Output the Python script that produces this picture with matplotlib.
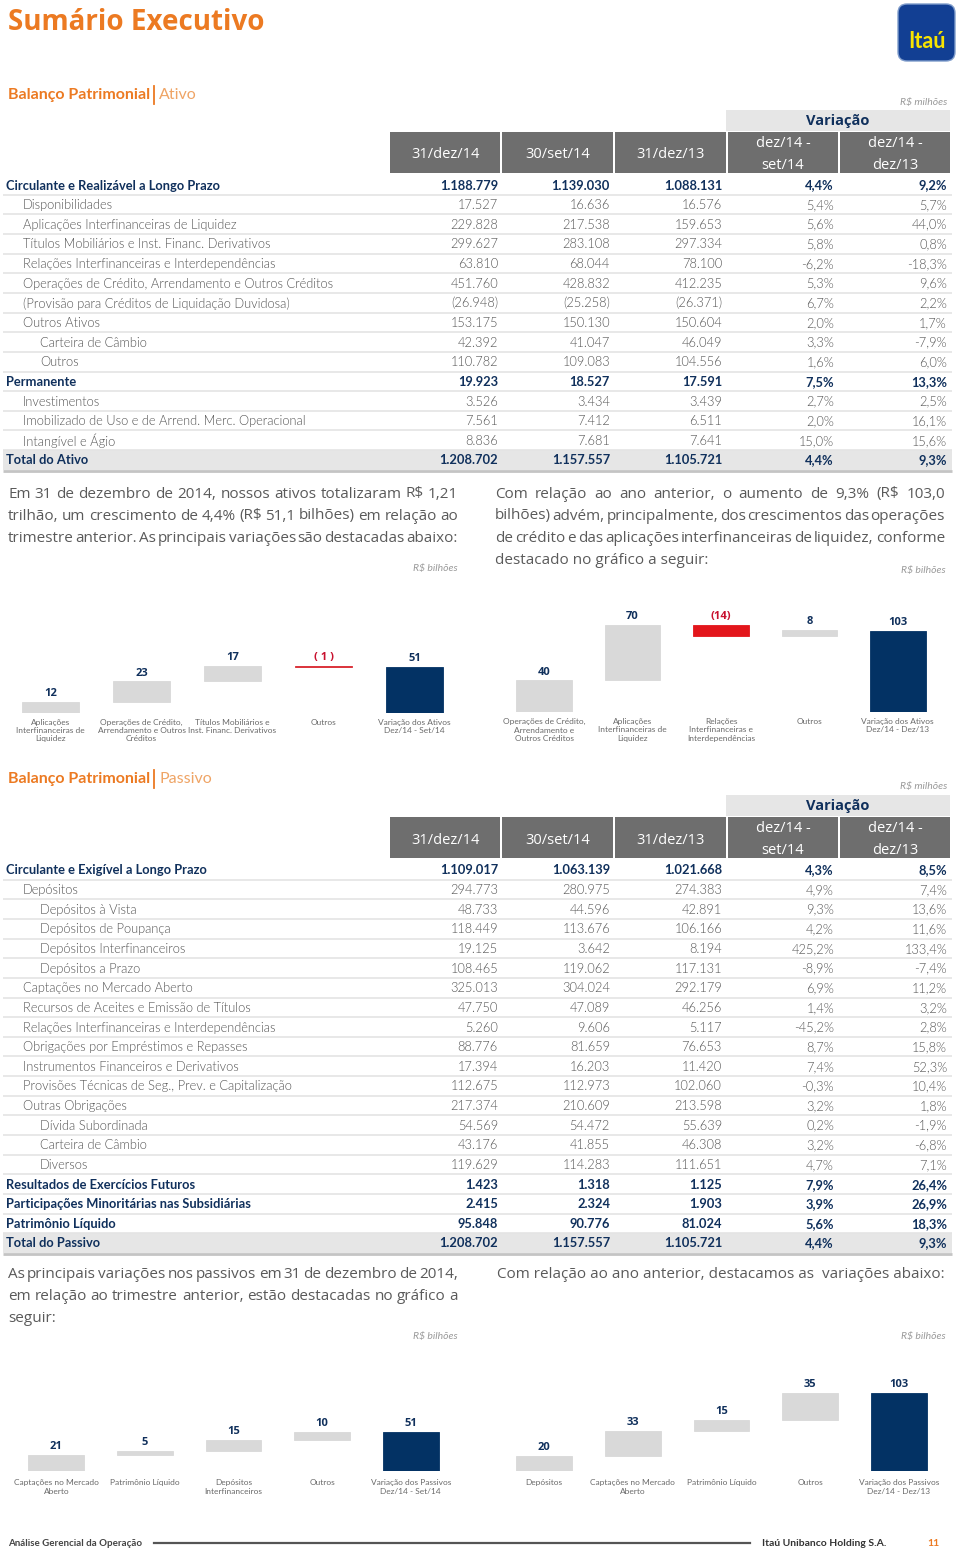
import matplotlib
matplotlib.use("Agg")
import matplotlib.pyplot as plt
from matplotlib.patches import Rectangle, FancyBboxPatch

# ---------------- DATA ----------------
col_headers = ['31/dez/14', '30/set/14', '31/dez/13']
var_headers = [('dez/14 -', 'set/14'), ('dez/14 -', 'dez/13')]

ativo_labels = ['Circulante e Realizável a Longo Prazo', 'Disponibilidades',
                'Aplicações Interfinanceiras de Liquidez', 'Títulos Mobiliários e Inst. Financ. Derivativos',
                'Relações Interfinanceiras e Interdependências',
                'Operações de Crédito, Arrendamento e Outros Créditos',
                '(Provisão para Créditos de Liquidação Duvidosa)', 'Outros Ativos',
                'Carteira de Câmbio', 'Outros', 'Permanente', 'Investimentos',
                'Imobilizado de Uso e de Arrend. Merc. Operacional', 'Intangível e Ágio',
                'Total do Ativo']
ativo_level = ['b', 1, 1, 1, 1, 1, 1, 1, 2, 2, 'b', 1, 1, 1, 't']
ativo_dez14 = [1188779, 17527, 229828, 299627, 63810, 451760, -26948, 153175, 42392, 110782,
               19923, 3526, 7561, 8836, 1208702]
ativo_set14 = [1139030, 16636, 217538, 283108, 68044, 428832, -25258, 150130, 41047, 109083,
               18527, 3434, 7412, 7681, 1157557]
ativo_dez13 = [1088131, 16576, 159653, 297334, 78100, 412235, -26371, 150604, 46049, 104556,
               17591, 3439, 6511, 7641, 1105721]
ativo_var_tri = [4.4, 5.4, 5.6, 5.8, -6.2, 5.3, 6.7, 2.0, 3.3, 1.6, 7.5, 2.7, 2.0, 15.0, 4.4]
ativo_var_ano = [9.2, 5.7, 44.0, 0.8, -18.3, 9.6, 2.2, 1.7, -7.9, 6.0, 13.3, 2.5, 16.1, 15.6, 9.3]

passivo_labels = ['Circulante e Exigível a Longo Prazo', 'Depósitos', 'Depósitos à Vista',
                  'Depósitos de Poupança', 'Depósitos Interfinanceiros', 'Depósitos a Prazo',
                  'Captações no Mercado Aberto', 'Recursos de Aceites e Emissão de Títulos',
                  'Relações Interfinanceiras e Interdependências', 'Obrigações por Empréstimos e Repasses',
                  'Instrumentos Financeiros e Derivativos',
                  'Provisões Técnicas de Seg., Prev. e Capitalização', 'Outras Obrigações',
                  'Dívida Subordinada', 'Carteira de Câmbio', 'Diversos',
                  'Resultados de Exercícios Futuros', 'Participações Minoritárias nas Subsidiárias',
                  'Patrimônio Líquido', 'Total do Passivo']
passivo_level = ['b', 1, 2, 2, 2, 2, 1, 1, 1, 1, 1, 1, 1, 2, 2, 2, 'b', 'b', 'b', 't']
passivo_dez14 = [1109017, 294773, 48733, 118449, 19125, 108465, 325013, 47750, 5260, 88776,
                 17394, 112675, 217374, 54569, 43176, 119629, 1423, 2415, 95848, 1208702]
passivo_set14 = [1063139, 280975, 44596, 113676, 3642, 119062, 304024, 47089, 9606, 81659,
                 16203, 112973, 210609, 54472, 41855, 114283, 1318, 2324, 90776, 1157557]
passivo_dez13 = [1021668, 274383, 42891, 106166, 8194, 117131, 292179, 46256, 5117, 76653,
                 11420, 102060, 213598, 55639, 46308, 111651, 1125, 1903, 81024, 1105721]
passivo_var_tri = [4.3, 4.9, 9.3, 4.2, 425.2, -8.9, 6.9, 1.4, -45.2, 8.7, 7.4, -0.3, 3.2, 0.2,
                   3.2, 4.7, 7.9, 3.9, 5.6, 4.4]
passivo_var_ano = [8.5, 7.4, 13.6, 11.6, 133.4, -7.4, 11.2, 3.2, 2.8, 15.8, 52.3, 10.4, 1.8, -1.9,
                   -6.8, 7.1, 26.4, 26.9, 18.3, 9.3]

wf1_cats = ['Aplicações\nInterfinanceiras de\nLiquidez', 'Operações de Crédito,\nArrendamento e Outros\nCréditos',
            'Títulos Mobiliários e\nInst. Financ. Derivativos', 'Outros', 'Variação dos Ativos\nDez/14 - Set/14']
wf1_vals = [12, 23, 17, -1, 51]
wf2_cats = ['Operações de Crédito,\nArrendamento e\nOutros Créditos', 'Aplicações\nInterfinanceiras de\nLiquidez',
            'Relações\nInterfinanceiras e\nInterdependências', 'Outros', 'Variação dos Ativos\nDez/14 - Dez/13']
wf2_vals = [40, 70, -14, 8, 103]
wf3_cats = ['Captações no Mercado\nAberto', 'Patrimônio Líquido', 'Depósitos\nInterfinanceiros', 'Outros',
            'Variação dos Passivos\nDez/14 - Set/14']
wf3_vals = [21, 5, 15, 10, 51]
wf4_cats = ['Depósitos', 'Captações no Mercado\nAberto', 'Patrimônio Líquido', 'Outros',
            'Variação dos Passivos\nDez/14 - Dez/13']
wf4_vals = [20, 33, 15, 35, 103]

par1 = ['Em 31 de dezembro de 2014, nossos ativos totalizaram R$ 1,21',
        'trilhão, um crescimento de 4,4% (R$ 51,1 bilhões) em relação ao',
        'trimestre anterior. As principais variações são destacadas abaixo:']
par2 = ['Com relação ao ano anterior, o aumento de 9,3% (R$ 103,0',
        'bilhões) advém, principalmente, dos crescimentos das operações',
        'de crédito e das aplicações interfinanceiras de liquidez, conforme',
        'destacado no gráfico a seguir:']
par3 = ['As principais variações nos passivos em 31 de dezembro de 2014,',
        'em relação ao trimestre anterior, estão destacadas no gráfico a',
        'seguir:']
par4 = ['Com relação ao ano anterior, destacamos as  variações abaixo:']

# ---------------- STYLE ----------------
W, H = 960, 1552
ORANGE = '#EC7A22'
NAVY = '#10305C'
TXT = '#555555'
HDR = '#6E6E6E'
BAND = '#E6E6E6'
BARGRAY = '#D9D9D9'
BARBLUE = '#033264'
RED = '#E3161B'
TF = 'Lato'
PF = 'Open Sans'

fig = plt.figure(figsize=(W / 100, H / 100), dpi=100)
ax = fig.add_axes([0, 0, 1, 1])
ax.set_xlim(0, W)
ax.set_ylim(H, 0)
ax.axis('off')
renderer = fig.canvas.get_renderer()


def width(t):
    return t.get_window_extent(renderer).width


def fmt_num(v):
    s = f"{abs(v):,}".replace(",", ".")
    return f"({s})" if v < 0 else s


def fmt_pct(v):
    return f"{v:.1f}".replace(".", ",") + "%"


# title + logo
ax.text(8, 23, 'Sumário Executivo', color=ORANGE, fontsize=20, fontweight='bold', family=PF,
        va='center', ha='left')
ax.add_patch(FancyBboxPatch((898, 4), 57, 57, boxstyle='round,pad=0,rounding_size=9',
                            facecolor='#123F93', edgecolor='#7F9CCB', lw=1))
ax.text(927, 42, 'Itaú', color='#F8E400', fontsize=15.5, fontweight='bold', family=TF,
        ha='center', va='center')


def heading(y, sub):
    t1 = ax.text(8, y, 'Balanço Patrimonial', color=ORANGE, fontsize=11.5, fontweight='bold',
                 family=TF, va='center', ha='left')
    w1 = width(t1)
    ax.plot([8 + w1 + 4, 8 + w1 + 4], [y - 9, y + 9], color=ORANGE, lw=1.3)
    ax.text(8 + w1 + 9, y, sub, color='#EFA465', fontsize=11.5, family=TF, va='center', ha='left')


cells = [(390, 500), (502, 613), (615, 726), (728, 838), (840, 950)]
num_right = [498, 610, 722, 834, 947]


def table(y_var, y0, step, labels, levels, c1, c2, c3, v1, v2):
    ax.text(947, y_var - 8, 'R$ milhões', color='#9A9A9A', fontsize=7.5, style='italic',
            family=TF, ha='right', va='center')
    ax.add_patch(Rectangle((726, y_var), 224, 21, color=BAND, lw=0))
    ax.text(838, y_var + 11, 'Variação', color=NAVY, fontsize=10.5, fontweight='bold',
            family=PF, ha='center', va='center')
    yh = y_var + 22
    for a, b in cells:
        ax.add_patch(Rectangle((a, yh), b - a, 41, color=HDR, lw=0))
    for (a, b), h in zip(cells[:3], col_headers):
        ax.text((a + b) / 2, yh + 23, h, color='white', fontsize=10.5, family=PF,
                ha='center', va='center')
    for (a, b), (h1, h2) in zip(cells[3:], var_headers):
        ax.text((a + b) / 2, yh + 11.5, h1, color='white', fontsize=10.5, family=PF,
                ha='center', va='center')
        ax.text((a + b) / 2, yh + 33.5, h2, color='white', fontsize=10.5, family=PF,
                ha='center', va='center')
    for i, lab in enumerate(labels):
        y = y0 + i * step
        lev = levels[i]
        bold = lev in ('b', 't')
        if lev == 't':
            ax.add_patch(Rectangle((3, y - 9.8), 949, 19.6, color=BAND, lw=0))
            ax.plot([3, 952], [y + 11, y + 11], color='#C4C4C4', lw=2, solid_capstyle='butt')
        else:
            ax.plot([3, 952], [y + 9.8, y + 9.8], color='#E4E4E4', lw=1.2, solid_capstyle='butt')
        x = 6 if bold else (23 if lev == 1 else 40)
        kw = dict(color=NAVY if bold else TXT, fontsize=9.3, family=TF,
                  fontweight='bold' if bold else 300, va='center')
        ax.text(x, y + 0.5, lab, ha='left', **kw)
        vals = [fmt_num(c1[i]), fmt_num(c2[i]), fmt_num(c3[i]), fmt_pct(v1[i]), fmt_pct(v2[i])]
        for xr, s in zip(num_right, vals):
            ax.text(xr, y + 0.5, s, ha='right', **kw)


def paragraph(lines, x0, x1, y0, justify_last=False):
    for k, line in enumerate(lines):
        y = y0 + k * 22
        kw = dict(color='#5A5A5A', fontsize=11, family=PF, va='center', ha='left')
        last = k == len(lines) - 1
        if last and not justify_last:
            ax.text(x0, y, line, **kw)
            continue
        words = line.split(' ')
        ts = [ax.text(0, y, w, **kw) for w in words]
        ws = [width(t) for t in ts]
        gap = (x1 - x0 - sum(ws)) / (len(words) - 1)
        x = x0
        for t, w in zip(ts, ws):
            t.set_x(x)
            x += w + gap


def rs_bilhoes(x, y):
    ax.text(x, y, 'R$ bilhões', color='#9A9A9A', fontsize=7.5, style='italic', family=TF,
            ha='right', va='center')


def waterfall(box, scale, values, cats, pad, negcol):
    x0, ytop, x1, ybot = box
    a = fig.add_axes([x0 / W, 1 - ybot / H, (x1 - x0) / W, (ybot - ytop) / H])
    a.patch.set_alpha(0)
    n = len(values)
    a.set_xlim(-0.5, n - 0.5)
    a.set_ylim(0, (ybot - ytop) / scale)
    cum = 0
    for i, v in enumerate(values):
        if i == n - 1:
            bottom, col = 0, BARBLUE
        else:
            bottom = cum
            col = BARGRAY if v >= 0 else negcol
            cum += v
        a.bar(i, v, bottom=bottom, width=0.63, color=col, edgecolor=col, linewidth=0.6)
        top = max(bottom, bottom + v)
        if v < 0:
            lab = f"( {abs(v)} )" if abs(v) < 10 else f"({abs(v)})"
            lc = '#C8102E'
        else:
            lab, lc = str(v), NAVY
        a.annotate(lab, (i, top), xytext=(0, 2), textcoords='offset points', ha='center',
                   va='bottom', fontsize=8, fontweight='bold', color=lc, family=PF)
    a.set_xticks(range(n))
    a.set_xticklabels(cats, fontsize=6, color='#6A6A6A', family=TF)
    a.tick_params(length=0, pad=pad)
    a.set_yticks([])
    for s in a.spines.values():
        s.set_visible(False)


# ----- Ativo -----
heading(95, 'Ativo')
table(110, 185, 19.64, ativo_labels, ativo_level, ativo_dez14, ativo_set14, ativo_dez13,
      ativo_var_tri, ativo_var_ano)
paragraph(par1, 8, 458, 494, justify_last=True)
paragraph(par2, 495, 945, 494)
rs_bilhoes(458, 568)
rs_bilhoes(946, 570)
waterfall((5, 600, 460, 713), 0.9, wf1_vals, wf1_cats, 4, '#D9262E')
waterfall((500, 600, 942, 712), 0.79, wf2_vals, wf2_cats, 4.5, RED)

# ----- Passivo -----
heading(779, 'Passivo')
table(795, 870, 19.63, passivo_labels, passivo_level, passivo_dez14, passivo_set14, passivo_dez13,
      passivo_var_tri, passivo_var_ano)
paragraph(par3, 8, 458, 1274)
paragraph(par4, 497, 945, 1274)
rs_bilhoes(458, 1336)
rs_bilhoes(946, 1336)
waterfall((12, 1370, 455, 1471), 0.76, wf3_vals, wf3_cats, 6, RED)
waterfall((500, 1370, 943, 1471), 0.757, wf4_vals, wf4_cats, 6, RED)

# footer
ax.text(8, 1544, 'Análise Gerencial da Operação', color='#444444', fontsize=7, fontweight='bold',
        family=TF, va='center', ha='left')
ax.plot([154, 750], [1543, 1543], color='#555555', lw=1.6)
ax.text(762, 1543, 'Itaú Unibanco Holding S.A.', color='#333333', fontsize=7.5, fontweight='bold',
        family=TF, va='center', ha='left')
ax.text(927, 1544, '11', color=ORANGE, fontsize=7.5, fontweight='bold', family=TF,
        va='center', ha='left')

fig.savefig('out.png', dpi=100)
